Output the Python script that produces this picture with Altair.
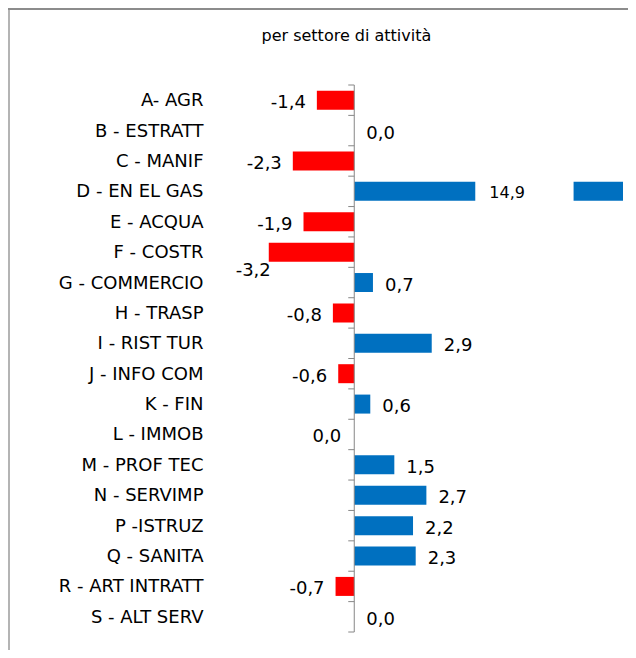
import altair as alt
import pandas as pd

categories = [
    "A- AGR", "B - ESTRATT", "C - MANIF", "D - EN EL GAS", "E - ACQUA",
    "F - COSTR", "G - COMMERCIO", "H - TRASP", "I - RIST TUR", "J - INFO COM",
    "K - FIN", "L - IMMOB", "M - PROF TEC", "N - SERVIMP", "P -ISTRUZ",
    "Q - SANITA", "R - ART INTRATT", "S - ALT SERV",
]
values = [-1.4, 0.0, -2.3, 14.9, -1.9, -3.2, 0.7, -0.8, 2.9, -0.6,
          0.6, 0.0, 1.5, 2.7, 2.2, 2.3, -0.7, 0.0]
TITLE = "per settore di attività"

# axis break for the out-of-scale bar
BREAK_LO, BREAK_HI = 4.53, 8.21
X_MIN, X_MAX = -5.4, 10.06

df = pd.DataFrame({"cat": categories, "v": values})
df["label"] = df["v"].map(lambda v: f"{v:.1f}".replace(".", ","))
df["zero"] = 0.0

W, H = 413, 547
FONT = "DejaVu Sans"
FS = 18
RED, BLUE, GREY = "#FF0000", "#0070C0", "#868686"


def make_y(**kw):
    return alt.Y(
        "cat:N", sort=categories,
        scale=alt.Scale(paddingInner=0, paddingOuter=0),
        axis=alt.Axis(title=None, domain=False, ticks=False, labelPadding=7,
                      labelFontSize=FS, labelFont=FONT, labelColor="black",
                      labelLimit=300, grid=False, labelOffset=1),
        **kw,
    )


x_scale = alt.Scale(domain=[X_MIN, X_MAX], nice=False, zero=False)


def X(field):
    return alt.X(field, scale=x_scale, axis=None)


color = alt.condition("datum.v < 0", alt.value(RED), alt.value(BLUE))
base = alt.Chart(df)

bars1 = base.transform_calculate(
    end=f"min(datum.v, {BREAK_LO})"
).mark_bar(size=19).encode(
    x=X("end:Q"), x2="zero:Q", y=make_y(), color=color
)

bars2 = base.transform_filter(f"datum.v > {BREAK_HI}").transform_calculate(
    start=f"{BREAK_HI}"
).mark_bar(size=19, clip=True).encode(
    x=X("start:Q"), x2="v:Q", y=make_y(), color=alt.value(BLUE)
)

ticks = base.mark_rule(color=GREY, x2Offset=-6).encode(
    x=X("zero:Q"), x2="zero:Q", y=make_y(bandPosition=0)
)
tick_last = base.transform_filter(
    alt.datum.cat == categories[-1]
).mark_rule(color=GREY, x2Offset=-6).encode(
    x=X("zero:Q"), x2="zero:Q", y=make_y(bandPosition=1)
)

axis_line = alt.Chart(pd.DataFrame({"zero": [0.0]})).mark_rule(color=GREY).encode(
    x=X("zero:Q"), y=alt.value(0), y2=alt.value(H)
)

txt = dict(font=FONT, fontSize=FS, color="black", baseline="middle", dy=3)

lab_neg = base.transform_filter(
    "datum.v < 0 && datum.cat != 'F - COSTR'"
).mark_text(align="right", dx=-11, **txt).encode(x=X("v:Q"), y=make_y(), text="label:N")

lab_pos = base.transform_filter(
    f"datum.v >= 0 && datum.v <= {BREAK_HI} && datum.cat != 'L - IMMOB'"
).mark_text(align="left", dx=12, **txt).encode(x=X("v:Q"), y=make_y(), text="label:N")

lab_zero_left = base.transform_filter(
    "datum.cat == 'L - IMMOB'"
).mark_text(align="right", dx=-13, **txt).encode(x=X("zero:Q"), y=make_y(), text="label:N")

lab_f = base.transform_filter(
    "datum.cat == 'F - COSTR'"
).mark_text(align="right", font=FONT, fontSize=FS, color="black",
            baseline="middle", dx=2, dy=19).encode(x=X("v:Q"), y=make_y(), text="label:N")

lab_big = base.transform_filter(f"datum.v > {BREAK_HI}").transform_calculate(
    pos=f"{BREAK_LO}"
).mark_text(align="left", dx=14, font=FONT, fontSize=16, color="black",
            baseline="middle", dy=2).encode(x=X("pos:Q"), y=make_y(), text="label:N")

title = alt.Chart(pd.DataFrame({"t": [TITLE]})).mark_text(
    font=FONT, fontSize=16, color="black", align="center", baseline="alphabetic"
).encode(x=alt.value(136.4), y=alt.value(-44), text="t:N")

frame_df = alt.Chart(pd.DataFrame({"k": [0]}))
frame_left = frame_df.mark_rule(color="#b4b4b4", strokeWidth=2).encode(
    x=alt.value(-201), y=alt.value(-76), y2=alt.value(H + 18))
frame_top = frame_df.mark_rule(color="#8c8c8c", strokeWidth=2).encode(
    x=alt.value(-202), x2=alt.value(W + 5), y=alt.value(-76))

chart = alt.layer(
    frame_left, frame_top, title,
    bars1, bars2, axis_line, ticks, tick_last,
    lab_neg, lab_pos, lab_zero_left, lab_f, lab_big,
).properties(
    width=W, height=H,
    autosize=alt.AutoSizeParams(type="none"),
    padding={"left": 202, "top": 77, "right": 5, "bottom": 18},
).configure_view(stroke=None)

chart.save("out.html", embed_options={"renderer": "svg", "actions": False})
